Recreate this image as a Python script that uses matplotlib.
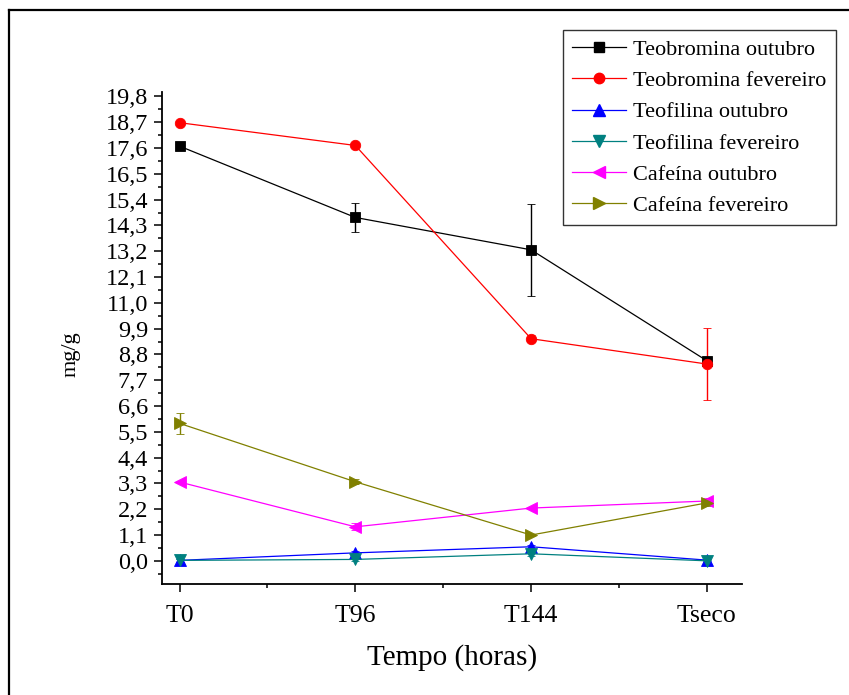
import matplotlib
matplotlib.use("Agg")
import matplotlib.pyplot as plt
from matplotlib.ticker import FixedLocator
from matplotlib.lines import Line2D

plt.rcParams['font.family'] = ['Liberation Serif', 'DejaVu Serif']

# Sampling times
times = ["T0", "T96", "T144", "Tseco"]

# Alkaloid contents (mg/g) and standard deviations
teobromina_out = [17.68, 14.64, 13.26, 8.53]
teobromina_out_err = [0.05, 0.60, 1.95, 0.10]
teobromina_fev = [18.68, 17.71, 9.47, 8.39]
teobromina_fev_err = [0.05, 0.05, 0.15, 1.55]
teofilina_out = [0.02, 0.34, 0.60, 0.03]
teofilina_out_err = [0.05, 0.10, 0.08, 0.05]
teofilina_fev = [0.02, 0.06, 0.30, 0.00]
teofilina_fev_err = [0.05, 0.08, 0.08, 0.05]
cafeina_out = [3.36, 1.45, 2.25, 2.55]
cafeina_out_err = [0.05, 0.15, 0.05, 0.15]
cafeina_fev = [5.86, 3.37, 1.10, 2.47]
cafeina_fev_err = [0.44, 0.10, 0.05, 0.15]

series = [
    ("Teobromina outubro", teobromina_out, teobromina_out_err, "#000000", "s", 6.5),
    ("Teobromina fevereiro", teobromina_fev, teobromina_fev_err, "#FF0000", "o", 7.5),
    ("Teofilina outubro", teofilina_out, teofilina_out_err, "#0000FF", "^", 8.5),
    ("Teofilina fevereiro", teofilina_fev, teofilina_fev_err, "#008080", "v", 8.5),
    ("Cafeína outubro", cafeina_out, cafeina_out_err, "#FF00FF", "<", 8.5),
    ("Cafeína fevereiro", cafeina_fev, cafeina_fev_err, "#808000", ">", 8.5),
]

fig = plt.figure(figsize=(8.49, 6.95), dpi=100)
ax = fig.add_axes([0.1908, 0.1593, 0.874 - 0.1908, 0.868 - 0.1593])

x = list(range(len(times)))
handles = []
for label, vals, errs, color, marker, ms in series:
    ax.errorbar(x, vals, yerr=errs, color=color, marker=marker, markersize=ms,
                linewidth=0.9, elinewidth=1.0, capsize=2.6, capthick=1.0,
                markeredgewidth=0.6, markeredgecolor=color, clip_on=False)
    handles.append(Line2D([], [], color=color, marker=marker, markersize=ms,
                          linewidth=0.9, markeredgecolor=color))

ax.set_xlim(-0.1, 3.2)
ax.set_ylim(-1.0, 20.0)

yticks = [round(1.1 * i, 1) for i in range(19)]
ax.yaxis.set_major_locator(FixedLocator(yticks))
ax.set_yticklabels([f"{v:.1f}".replace(".", ",") for v in yticks])
ax.yaxis.set_minor_locator(FixedLocator([round(-0.55 + 1.1 * i, 2) for i in range(19)]))
ax.set_xticks(x)
ax.set_xticklabels(times)
ax.xaxis.set_minor_locator(FixedLocator([0.5, 1.5, 2.5]))

for side in ("top", "right"):
    ax.spines[side].set_visible(False)
for side in ("left", "bottom"):
    ax.spines[side].set_linewidth(1.3)

ax.tick_params(axis="y", which="major", direction="out", length=6, width=1.1,
               labelsize=17.5, pad=4)
ax.tick_params(axis="y", which="minor", direction="out", length=3, width=1.1)
ax.tick_params(axis="x", which="major", direction="out", length=6, width=1.1,
               labelsize=18.5, pad=9)
ax.tick_params(axis="x", which="minor", direction="out", length=3, width=1.1)

ax.set_xlabel("Tempo (horas)", fontsize=21, labelpad=12)
ax.set_ylabel("mg/g", fontsize=16)
ax.yaxis.set_label_coords(-0.141, 0.467)

leg = fig.legend(handles, [s[0] for s in series], loc="upper right",
                 bbox_to_anchor=(836 / 849, 1 - 30 / 695), bbox_transform=fig.transFigure,
                 fontsize=16, frameon=True, fancybox=False, handlelength=2.4,
                 handletextpad=0.35, labelspacing=0.48, borderpad=0.42,
                 borderaxespad=0)
leg.get_frame().set_edgecolor("black")
leg.get_frame().set_linewidth(1.0)

# Outer frame: top and left edges
fig.add_artist(Line2D([9 / 849, 1.0], [1 - 10 / 695, 1 - 10 / 695],
                      transform=fig.transFigure, color="black", linewidth=1.6))
fig.add_artist(Line2D([9 / 849, 9 / 849], [0.0, 1 - 10 / 695],
                      transform=fig.transFigure, color="black", linewidth=1.6))

fig.savefig("out.png", dpi=100)
